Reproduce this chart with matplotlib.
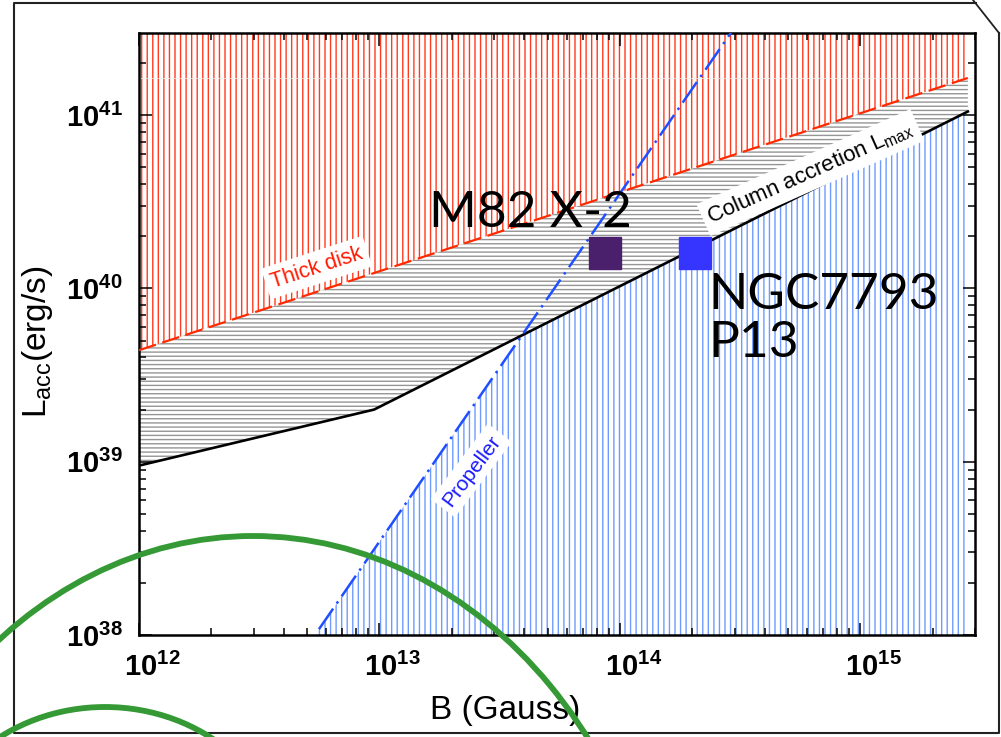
import numpy as np
import matplotlib
matplotlib.use("Agg")
import matplotlib.pyplot as plt
import matplotlib.ticker as mticker
import matplotlib.transforms as mtrans
from matplotlib.patches import Ellipse
from matplotlib.lines import Line2D

plt.rcParams['font.family'] = ['Liberation Sans', 'DejaVu Sans']
plt.rcParams['hatch.linewidth'] = 1.0

# luminosity limits vs. surface field (log-log straight segments)
b_lmax = [1e12, 9.5e12, 2.8e15]
l_lmax = [9.5e38, 2.0e39, 1.05e41]
b_thick = [1e12, 2.8e15]
l_thick = [4.4e39, 1.64e41]
b_prop = [5.6e12, 2.9e14]
l_prop = [1.08e38, 3.0e41]

# observed sources
src_names = ['M82 X-2', 'NGC7793\nP13']
src_b = [8.7e13, 2.05e14]
src_l = [1.61e40, 1.61e40]
src_colors = ['#4a1f6b', '#3535ff']

x_ticks = [1e12, 1e13, 1e14, 1e15]
x_ticklabels = [r'$\mathdefault{10^{12}}$', r'$\mathdefault{10^{13}}$',
                r'$\mathdefault{10^{14}}$', r'$\mathdefault{10^{15}}$']
y_ticks = [1e38, 1e39, 1e40, 1e41]

xlim = (1e12, 3e15)
ylim = (1e38, 2.98e41)


def loglin(b, bx, ly):
    return 10 ** np.interp(np.log10(b), np.log10(bx), np.log10(ly))


fig = plt.figure(figsize=(10.01, 7.37), dpi=100)
ax = fig.add_axes([0.1389, 0.1384, 0.8352, 0.8168])
ax.set_xscale('log')
ax.set_yscale('log')
ax.set_xlim(*xlim)
ax.set_ylim(*ylim)

bb = np.logspace(np.log10(b_lmax[0]), np.log10(b_lmax[-1]), 800)
lmax = loglin(bb, b_lmax, l_lmax)
thick = loglin(bb, b_thick, l_thick)
slope = np.diff(np.log10(l_prop))[0] / np.diff(np.log10(b_prop))[0]
prop = l_prop[0] * (bb / b_prop[0]) ** slope

# hatched regimes
ax.fill_between(bb, thick, ylim[1], facecolor='none', edgecolor='#ff3b1f',
                hatch='|||', linewidth=0, zorder=1)
ax.fill_between(bb, lmax, thick, facecolor='none', edgecolor='#959595',
                hatch='----', linewidth=0, zorder=1)
upper = np.minimum(lmax, prop)
ax.fill_between(bb, ylim[0], upper, where=upper > ylim[0], interpolate=True,
                facecolor='none', edgecolor='#6e9bff', hatch='|||',
                linewidth=0, zorder=1)

ax.axhline(l_thick[-1], color='#eeeeee', lw=0.5, zorder=1)

# boundary curves
ax.plot(b_thick, l_thick, color='#ff2a00', lw=1.6, ls=(0, (8, 3)), zorder=3)
ax.plot(b_lmax, l_lmax, color='black', lw=1.9, zorder=3)
ax.plot(b_prop, l_prop, color='#1f4fff', lw=1.8, ls=(0, (10, 2.5, 1, 2.5)), zorder=3)

for b, l, c in zip(src_b, src_l, src_colors):
    ax.plot([b], [l], marker='s', ms=23, color=c, mec=c, mew=1, zorder=5)

box = dict(facecolor='white', edgecolor='none', pad=4)
ax.text(5.48e12, 1.32e40, 'Thick disk', color='#ff1a00', fontsize=15.5,
        rotation=18, ha='center', va='center', rotation_mode='anchor',
        bbox=box, zorder=4)
ax.text(6.2e14, 4.67e40, r'Column accretion L$_{\mathregular{max}}$',
        color='black', fontsize=16, rotation=24, ha='center', va='center',
        rotation_mode='anchor', bbox=box, zorder=4)
ax.text(2.41e13, 8.9e38, 'Propeller', color='#1a1aff', fontsize=15,
        rotation=53, ha='center', va='center', rotation_mode='anchor',
        bbox=box, zorder=4)

ax.text(4.24e13, 2.25e40, src_names[0], family='Lato', fontsize=37,
        ha='center', va='baseline', zorder=6)
ax.text(2.32e14, 1.24e40, src_names[1], family='Lato', fontsize=37,
        ha='left', va='top', linespacing=1.05, zorder=6)

# ticks
ax.set_xticks(x_ticks)
ax.set_xticklabels([])
ax.set_yticks(y_ticks)
ax.yaxis.set_major_formatter(mticker.LogFormatterSciNotation())
ax.xaxis.set_minor_formatter(mticker.NullFormatter())
ax.yaxis.set_minor_formatter(mticker.NullFormatter())
ax.tick_params(which='both', direction='in', top=True, right=True, width=1.1)
ax.tick_params(which='major', length=9, pad=12, labelsize=21)
ax.tick_params(which='minor', length=5)
for lab in ax.get_yticklabels():
    lab.set_fontweight('bold')
for v, s in zip(x_ticks, x_ticklabels):
    ax.annotate(s, xy=(v, 0), xycoords=ax.get_xaxis_transform(),
                xytext=(9.5, -13), textcoords='offset points',
                ha='center', va='top', fontsize=21, fontweight='bold')
for sp in ax.spines.values():
    sp.set_linewidth(1.8)

ax.set_xlabel('B (Gauss)', fontsize=24)
ax.xaxis.set_label_coords(0.438, -0.10)
ax.set_ylabel(r'L$_{\mathregular{acc}}$(erg/s)', fontsize=24)
ax.yaxis.set_label_coords(-0.100, 0.488)

# slide frame and green arcs, in pixel coordinates from the top-left corner
pix = mtrans.Affine2D().scale(1 / 1001, -1 / 737).translate(0, 1) + fig.transFigure
fig.add_artist(Line2D([976, 14, 14, 999, 999], [3, 3, 733, 733, 33],
                      color='#222222', lw=1.5, transform=pix))
fig.add_artist(Line2D([973, 999], [0, 33], color='#222222', lw=1.3, transform=pix))
fig.add_artist(Ellipse((253, 1046), 840, 1020, fill=False, edgecolor='#359a35',
                       lw=4.2, transform=pix, zorder=10))
fig.add_artist(Ellipse((105, 867), 360, 320, fill=False, edgecolor='#359a35',
                       lw=4.2, transform=pix, zorder=10))

fig.savefig('out.png', dpi=100)
